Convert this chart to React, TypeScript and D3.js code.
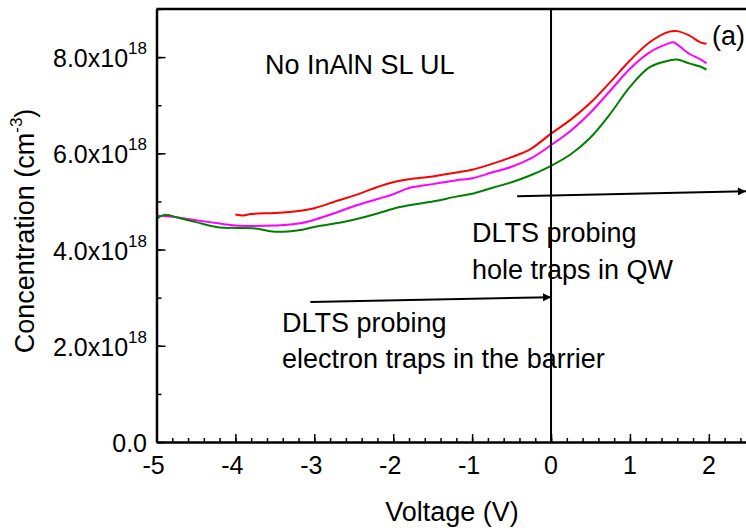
import React, { useEffect, useRef } from "react";
import * as d3 from "d3";

// values in units of 1e18 cm^-3
const redV = [-4.0, -3.9, -3.8, -3.5, -3.2, -3.0, -2.7, -2.5, -2.2, -2.0, -1.8, -1.5, -1.2, -1.0, -0.75, -0.5, -0.25, 0, 0.25, 0.5, 0.75, 1.0, 1.25, 1.5, 1.6, 1.75, 1.9, 1.97];
const redC = [4.73, 4.71, 4.74, 4.76, 4.8, 4.86, 5.02, 5.12, 5.3, 5.4, 5.46, 5.52, 5.6, 5.66, 5.78, 5.92, 6.1, 6.41, 6.7, 7.05, 7.48, 7.93, 8.31, 8.53, 8.54, 8.45, 8.3, 8.28];

const magV = [-5.0, -4.8, -4.5, -4.2, -4.0, -3.75, -3.5, -3.2, -3.0, -2.7, -2.5, -2.2, -2.0, -1.8, -1.5, -1.2, -1.0, -0.75, -0.5, -0.25, 0, 0.25, 0.5, 0.75, 1.0, 1.25, 1.5, 1.55, 1.75, 1.9, 1.97];
const magC = [4.71, 4.68, 4.61, 4.54, 4.5, 4.49, 4.5, 4.54, 4.62, 4.78, 4.9, 5.05, 5.15, 5.28, 5.36, 5.44, 5.48, 5.6, 5.72, 5.9, 6.17, 6.47, 6.85, 7.3, 7.76, 8.1, 8.29, 8.31, 8.07, 7.95, 7.87];

const grnV = [-5.0, -4.9, -4.7, -4.5, -4.2, -4.0, -3.75, -3.5, -3.2, -3.0, -2.7, -2.5, -2.2, -2.0, -1.8, -1.5, -1.2, -1.0, -0.75, -0.5, -0.25, 0, 0.25, 0.5, 0.75, 1.0, 1.25, 1.5, 1.6, 1.75, 1.9, 1.97];
const grnC = [4.64, 4.72, 4.65, 4.57, 4.46, 4.45, 4.44, 4.37, 4.4, 4.47, 4.55, 4.62, 4.75, 4.85, 4.92, 5.0, 5.1, 5.16, 5.28, 5.4, 5.55, 5.74, 5.98, 6.33, 6.82, 7.38, 7.79, 7.93, 7.95, 7.87, 7.8, 7.74];

const xTicks = [-5, -4, -3, -2, -1, 0, 1, 2];
const yTicks = [0, 2, 4, 6, 8];
const yTickLabels = ["0.0", "2.0x10", "4.0x10", "6.0x10", "8.0x10"];

const series = [
  { v: redV, c: redC, color: "#ff0000" },
  { v: magV, c: magC, color: "#ff00ff" },
  { v: grnV, c: grnC, color: "#008000" },
];

const FONT = "'Liberation Sans', Arial, sans-serif";

const App = () => {
  const svgRef = useRef<SVGSVGElement>(null);

  useEffect(() => {
    const width = 746;
    const height = 532;
    const svg = d3.select(svgRef.current).attr("width", width).attr("height", height);
    svg.selectAll("*").remove();

    const x = d3.scaleLinear().domain([-5, 2.5]).range([156.5, 748.3]);
    const y = d3.scaleLinear().domain([0, 9]).range([442, 9]);
    const g = svg.append("g").style("font-family", FONT);

    // curves
    const line = d3
      .line<[number, number]>()
      .x((d) => x(d[0]))
      .y((d) => y(d[1]))
      .curve(d3.curveCatmullRom.alpha(0.5));
    series.forEach((s) => {
      g.append("path")
        .datum(s.v.map((v, i) => [v, s.c[i]] as [number, number]))
        .attr("fill", "none")
        .attr("stroke", s.color)
        .attr("stroke-width", 2)
        .attr("d", line);
    });

    // frame
    g.append("line").attr("x1", x(-5)).attr("x2", x(2.5)).attr("y1", y(9)).attr("y2", y(9))
      .attr("stroke", "#000").attr("stroke-width", 2.5);
    g.append("line").attr("x1", x(2.5)).attr("x2", x(2.5)).attr("y1", y(0)).attr("y2", y(9))
      .attr("stroke", "#000").attr("stroke-width", 2.5);

    // bottom axis
    const xMinor = d3.range(-5, 2.51, 0.2);
    g.append("g")
      .attr("transform", `translate(0,${y(0)})`)
      .call(d3.axisBottom(x).tickValues(xMinor).tickSize(-4).tickSizeOuter(0).tickFormat(() => ""))
      .call((a) => a.select(".domain").attr("stroke-width", 2.5))
      .call((a) => a.selectAll(".tick line").attr("stroke-width", 1.5));
    g.append("g")
      .attr("transform", `translate(0,${y(0)})`)
      .call(d3.axisBottom(x).tickValues(xTicks).tickSize(-8).tickSizeOuter(0).tickFormat(() => ""))
      .call((a) => a.select(".domain").remove())
      .call((a) => a.selectAll(".tick line").attr("stroke-width", 1.5));
    xTicks.forEach((t) => {
      g.append("text").attr("x", x(t) - (t < 0 ? 3 : 0)).attr("y", 474)
        .attr("text-anchor", "middle").attr("font-size", 25).text(String(t));
    });

    // left axis
    const yMinor = d3.range(0, 9.01, 1);
    g.append("g")
      .attr("transform", `translate(${x(-5)},0)`)
      .call(d3.axisLeft(y).tickValues(yMinor).tickSize(-5).tickSizeOuter(0).tickFormat(() => ""))
      .call((a) => a.select(".domain").attr("stroke-width", 2.5))
      .call((a) => a.selectAll(".tick line").attr("stroke-width", 1.5));
    g.append("g")
      .attr("transform", `translate(${x(-5)},0)`)
      .call(d3.axisLeft(y).tickValues(yTicks).tickSize(-9).tickSizeOuter(0).tickFormat(() => ""))
      .call((a) => a.select(".domain").remove())
      .call((a) => a.selectAll(".tick line").attr("stroke-width", 1.5));
    yTicks.forEach((t, i) => {
      const txt = g.append("text").attr("x", 147).attr("y", y(t) + 10)
        .attr("text-anchor", "end").attr("font-size", 25);
      txt.append("tspan").text(yTickLabels[i]);
      if (t > 0) {
        txt.append("tspan").attr("dy", -13).attr("font-size", 17).text("18");
      }
    });

    // vertical line at 0 V
    g.append("line").attr("x1", x(0)).attr("x2", x(0)).attr("y1", y(0)).attr("y2", y(9))
      .attr("stroke", "#000").attr("stroke-width", 2);

    // arrows
    const defs = svg.append("defs");
    defs.append("marker").attr("id", "arr").attr("viewBox", "0 0 10 10")
      .attr("refX", 10).attr("refY", 5).attr("markerWidth", 14).attr("markerHeight", 8)
      .attr("markerUnits", "userSpaceOnUse").attr("orient", "auto")
      .append("path").attr("d", "M0,0L10,5L0,10Z").attr("fill", "#000");
    const arrows = [
      { x1: -3.05, y1: 2.91, x2: 0, y2: 3.01 },
      { x1: -0.43, y1: 5.11, x2: 2.47, y2: 5.21 },
    ];
    arrows.forEach((a) => {
      g.append("line").attr("x1", x(a.x1)).attr("y1", y(a.y1)).attr("x2", x(a.x2)).attr("y2", y(a.y2))
        .attr("stroke", "#000").attr("stroke-width", 2).attr("marker-end", "url(#arr)");
    });

    // annotations
    const notes = [
      { t: "No InAlN SL UL", px: 265, py: 74 },
      { t: "DLTS probing", px: 472, py: 242 },
      { t: "hole traps in QW", px: 472, py: 279 },
      { t: "DLTS probing", px: 282, py: 332 },
      { t: "electron traps in the barrier", px: 282, py: 368 },
      { t: "(a)", px: 712, py: 45 },
    ];
    notes.forEach((n) => {
      g.append("text").attr("x", n.px).attr("y", n.py).attr("font-size", 27).text(n.t);
    });

    // axis titles
    g.append("text").attr("x", 452).attr("y", 521).attr("text-anchor", "middle")
      .attr("font-size", 27).text("Voltage (V)");
    const yt = g.append("text").attr("transform", `translate(34,231) rotate(-90)`)
      .attr("text-anchor", "middle").attr("font-size", 27);
    yt.append("tspan").text("Concentration (cm");
    yt.append("tspan").attr("dy", -12).attr("font-size", 17).text("-3");
    yt.append("tspan").attr("dy", 12).text(")");
  }, []);

  return (
    <svg ref={svgRef} style={{ position: "absolute", left: 0, top: 0, background: "#fff" }}></svg>
  );
};

export default App;
